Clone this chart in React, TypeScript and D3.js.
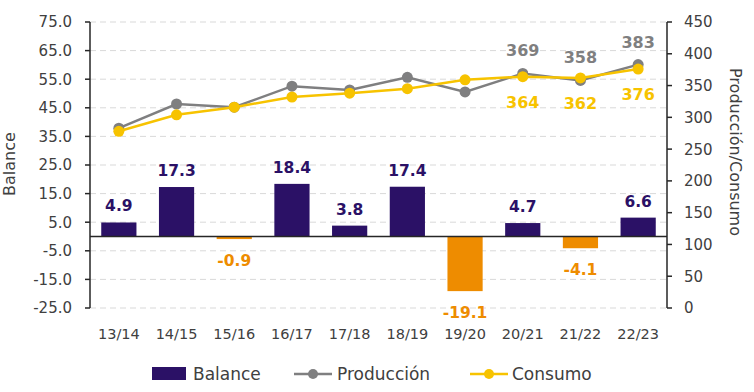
import React from "react";
import * as d3 from "d3";

const categories = ["13/14", "14/15", "15/16", "16/17", "17/18", "18/19", "19/20", "20/21", "21/22", "22/23"];
const balance = [4.9, 17.3, -0.9, 18.4, 3.8, 17.4, -19.1, 4.7, -4.1, 6.6];
const produccion = [283, 321, 316, 349, 343, 363, 340, 369, 358, 383];
const consumo = [278, 304, 316, 332, 338, 345, 359, 364, 362, 376];
const labeledIdx = [7, 8, 9];
const leftTicks = [75, 65, 55, 45, 35, 25, 15, 5, -5, -15, -25];
const rightTicks = [0, 50, 100, 150, 200, 250, 300, 350, 400, 450];

const W = 754, H = 392;
const M = { left: 90, right: 667, top: 22, bottom: 308 };
const FONT = "'DejaVu Sans', sans-serif";
const NAVY = "#2B1166";
const ORANGE = "#EE8C00";
const GRAY = "#7F7F80";
const GOLD = "#F7C300";
const TXT = "#404040";

export default function App() {
  const x = d3.scaleBand<string>().domain(categories).range([M.left, M.right]).paddingInner(0.39).paddingOuter(0.195);
  const yL = d3.scaleLinear().domain([-25, 75]).range([M.bottom, M.top]);
  const yR = d3.scaleLinear().domain([0, 450]).range([M.bottom, M.top]);
  const cx = (c: string) => (x(c) ?? 0) + x.bandwidth() / 2;
  const lineP = d3.line<number>().x((_, i) => cx(categories[i])).y((v) => yR(v));

  return (
    <svg width={W} height={H} style={{ position: "absolute", left: 0, top: 0, background: "#fff" }} fontFamily={FONT}>
      {/* grid */}
      {leftTicks.map((t) => (
        <line key={"g" + t} x1={M.left} x2={M.right} y1={yL(t)} y2={yL(t)} stroke="#D9D9D9" strokeWidth={1} strokeDasharray="6,4" />
      ))}
      {/* bars */}
      {balance.map((v, i) => (
        <rect key={"b" + i} x={x(categories[i])} width={x.bandwidth()} y={yL(Math.max(0, v))} height={Math.abs(yL(v) - yL(0))} fill={v >= 0 ? NAVY : ORANGE} />
      ))}
      {/* zero line */}
      <line x1={M.left} x2={M.right} y1={yL(0)} y2={yL(0)} stroke="#262626" strokeWidth={1.5} />
      {/* bar labels */}
      {balance.map((v, i) => (
        <text key={"bl" + i} x={cx(categories[i])} y={v >= 0 ? yL(v) - 11 : yL(v) + 27} textAnchor="middle" fontSize={15.5} fontWeight="bold" fill={v >= 0 ? NAVY : ORANGE}>
          {v.toFixed(1)}
        </text>
      ))}
      {/* lines */}
      <path d={lineP(produccion) ?? ""} fill="none" stroke={GRAY} strokeWidth={2.5} />
      {produccion.map((v, i) => (
        <circle key={"pc" + i} cx={cx(categories[i])} cy={yR(v)} r={5.5} fill={GRAY} />
      ))}
      <path d={lineP(consumo) ?? ""} fill="none" stroke={GOLD} strokeWidth={2.5} />
      {consumo.map((v, i) => (
        <circle key={"cc" + i} cx={cx(categories[i])} cy={yR(v)} r={5.5} fill={GOLD} />
      ))}
      {labeledIdx.map((i) => (
        <text key={"pl" + i} x={cx(categories[i])} y={yR(produccion[i]) - 17} textAnchor="middle" fontSize={16} fontWeight="bold" fill={GRAY}>
          {produccion[i]}
        </text>
      ))}
      {labeledIdx.map((i) => (
        <text key={"cl" + i} x={cx(categories[i])} y={yR(consumo[i]) + 31} textAnchor="middle" fontSize={16} fontWeight="bold" fill={GOLD}>
          {consumo[i]}
        </text>
      ))}
      {/* left axis */}
      <line x1={M.left} x2={M.left} y1={M.top} y2={M.bottom} stroke="#262626" strokeWidth={1.5} />
      {leftTicks.map((t) => (
        <g key={"lt" + t}>
          <line x1={M.left - 5} x2={M.left} y1={yL(t)} y2={yL(t)} stroke="#262626" strokeWidth={1.5} />
          <text x={72} y={yL(t)} dy="0.36em" textAnchor="end" fontSize={15} fill={TXT}>{t.toFixed(1)}</text>
        </g>
      ))}
      {/* right axis */}
      <line x1={M.right} x2={M.right} y1={M.top} y2={M.bottom} stroke="#262626" strokeWidth={1.5} />
      {rightTicks.map((t) => (
        <g key={"rt" + t}>
          <line x1={M.right} x2={M.right + 5} y1={yR(t)} y2={yR(t)} stroke="#262626" strokeWidth={1.5} />
          <text x={684} y={yR(t)} dy="0.36em" textAnchor="start" fontSize={15} fill={TXT}>{t}</text>
        </g>
      ))}
      {/* x labels */}
      {categories.map((c) => (
        <text key={"x" + c} x={cx(c)} y={339} textAnchor="middle" fontSize={14.5} fill={TXT}>{c}</text>
      ))}
      {/* axis titles */}
      <text transform={`translate(15,${164}) rotate(-90)`} textAnchor="middle" fontSize={16} fill={TXT}>Balance</text>
      <text transform={`translate(730,${152}) rotate(90)`} textAnchor="middle" fontSize={16} fill={TXT}>Producción/Consumo</text>
      {/* legend */}
      <rect x={152} y={367} width={34} height={13} fill={NAVY} />
      <text x={193} y={380} fontSize={17} fill={TXT}>Balance</text>
      <line x1={294} x2={332} y1={374} y2={374} stroke={GRAY} strokeWidth={2.5} />
      <circle cx={313} cy={374} r={5} fill={GRAY} />
      <text x={337} y={380} fontSize={17} fill={TXT}>Producción</text>
      <line x1={470} x2={508} y1={374} y2={374} stroke={GOLD} strokeWidth={2.5} />
      <circle cx={489} cy={374} r={5} fill={GOLD} />
      <text x={512} y={380} fontSize={17} fill={TXT}>Consumo</text>
    </svg>
  );
}
